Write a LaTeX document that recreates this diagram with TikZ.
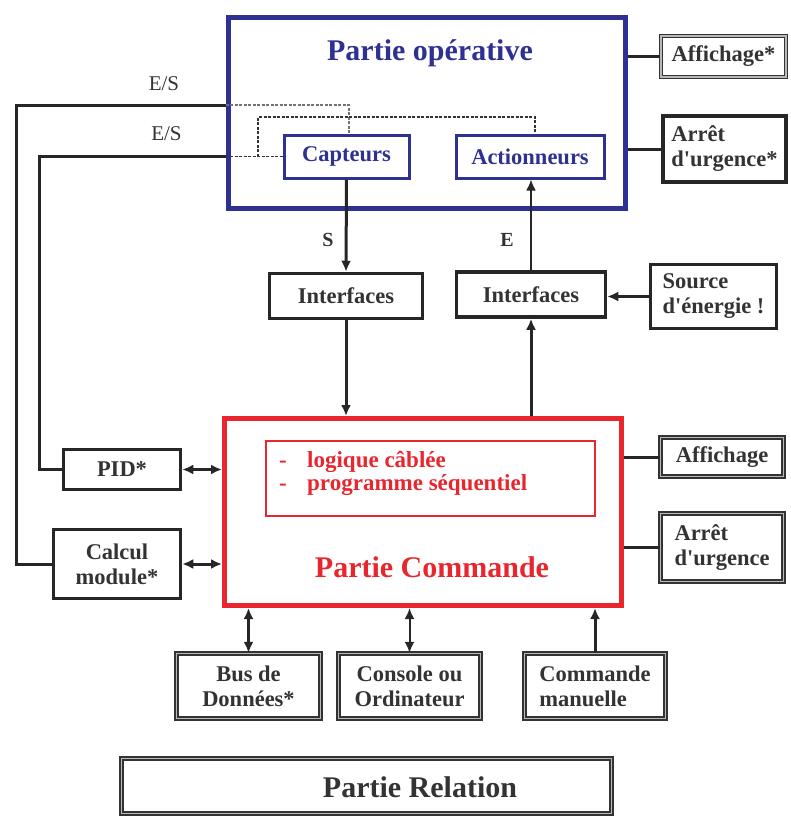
\documentclass[tikz,border=0pt]{standalone}
\usepackage{fontspec}
\setmainfont{Liberation Serif}
\usetikzlibrary{arrows.meta}
\definecolor{opblue}{HTML}{2E3192}
\definecolor{cmdred}{HTML}{E8262E}
\definecolor{ink}{HTML}{333333}
\newcommand{\apos}{\textquotesingle}
\begin{document}
\begin{tikzpicture}[x=1pt,y=-1pt,
  >={Latex[length=11pt,width=10pt]},
  lbl/.style={font=\fontsize{22.5}{25}\selectfont\bfseries, text=ink, align=center, inner sep=0pt},
  solidbox/.style={lbl, draw=black!85, line width=3.5pt, fill=white},
  framebox/.style={lbl, draw=black!80, line width=1.3pt, double=gray!55, double distance=1.8pt, fill=white},
  opframe/.style={draw=opblue, line width=5pt, inner sep=0pt},
  opbox/.style={lbl, draw=opblue, text=opblue, line width=3pt, fill=white},
  cmdframe/.style={draw=cmdred, line width=5pt, inner sep=0pt},
  cmdlist/.style={draw=cmdred, line width=2.5pt, inner sep=0pt},
  title/.style={font=\fontsize{30}{34}\selectfont\bfseries, inner sep=0pt, anchor=base},
  conn/.style={draw=black!85, line width=3pt},
  thinconn/.style={draw=black!85, line width=2pt},
  dashline/.style={draw=black!80, line width=1.2pt, dash pattern=on 3pt off 1.5pt},
  lightdash/.style={draw=black!55, line width=1.2pt, dash pattern=on 3pt off 1.5pt},
  tag/.style={font=\fontsize{21}{24}\selectfont, text=ink, inner sep=0pt},
]
\useasboundingbox (0,0) rectangle (791,817);

% ---------- Partie opérative ----------
\node[opframe, minimum width=397pt, minimum height=191pt] (op) at (426.5,112.5) {};
\node[title, text=opblue] (optitle) at (430,60) {Partie opérative};
\node[opbox, minimum width=125pt, minimum height=43pt] (capt) at (346.5,156.5) {Capteurs};
\node[opbox, minimum width=148pt, minimum height=43pt] (act) at (530,156.5) {Actionneurs};

% dashed internal links
\draw[lightdash] ([yshift=7.5pt]op.west) -| ([xshift=2.5pt]capt.north);
\coordinate (dj) at (258,156.5);
\draw[dashline] (op.west |- capt.west) -- (capt.west);
\draw[dashline] (dj) -- ++(0,-39.5) -| ([xshift=5pt]act.north);

% side boxes of the operative part
\node[framebox, minimum width=125pt, minimum height=41pt] (aff1) at (723.5,56.5) {Affichage*};
\node[solidbox, align=left, minimum width=123pt, minimum height=66pt] (arr1) at (724.5,149) {Arrêt\\d\apos urgence*};
\draw[conn] (op.east |- aff1.west) -- (aff1.west);
\draw[conn] (op.east |- arr1.west) -- (arr1.west);

% ---------- Interfaces ----------
\node[solidbox, minimum width=153pt, minimum height=45pt] (if1) at (346,296) {Interfaces};
\node[solidbox, minimum width=149pt, minimum height=45pt] (if2) at (531,294.5) {Interfaces};
\node[solidbox, align=left, minimum width=126pt, minimum height=64pt] (src) at (713.5,296.5) {Source\\d\apos énergie !};

\draw[conn, ->] (capt.south) -- (if1.north);
\node[tag, font=\fontsize{20}{24}\selectfont\bfseries] (slbl) at (328,240) {S};
\draw[thinconn, ->] (if2.north) -- (if2.north |- act.south);
\node[tag, font=\fontsize{20}{24}\selectfont\bfseries] (elbl) at (507,240) {E};
\draw[conn, ->] (src.west) -- (src.west -| if2.east);

% ---------- Partie Commande ----------
\node[cmdframe, minimum width=397pt, minimum height=187pt] (cmd) at (423,512) {};
\node[cmdlist, minimum width=329pt, minimum height=75pt] (list) at (430.5,478.5) {};
\node[lbl, text=cmdred, align=left, anchor=west, font=\fontsize{23}{23}\selectfont\bfseries] (listtxt) at (279,473)
  {\makebox[28pt][l]{-}logique câblée\\\makebox[28pt][l]{-}programme séquentiel};
\node[title, text=cmdred] (cmdtitle) at (432,577) {Partie Commande};

\draw[conn, ->] (if1.south) -- (if1.south |- cmd.north);
\draw[conn, ->] (if2.south |- cmd.north) -- (if2.south);

% left-hand modules
\node[solidbox, minimum width=117pt, minimum height=40pt] (pid) at (122,469.5) {PID*};
\node[solidbox, minimum width=127pt, minimum height=69pt] (calc) at (117,564) {Calcul\\module*};
\draw[conn, <->] (pid.east) -- (pid.east -| cmd.west);
\draw[conn, <->] (calc.east) -- (calc.east -| cmd.west);

% E/S links from the operative part
\draw[conn] ([yshift=7.5pt]op.west) -- ++(-209,0) |- (calc.west);
\draw[conn] (op.west |- capt.west) -- ++(-186,0) |- (pid.west);
\node[tag] (es1) at (164,84) {E/S};
\node[tag] (es2) at (166.5,134) {E/S};

% right-hand modules
\node[framebox, minimum width=123pt, minimum height=39pt] (aff2) at (722,457) {Affichage};
\node[framebox, align=left, minimum width=123pt, minimum height=68pt] (arr2) at (722,547.5) {Arrêt\\d\apos urgence};
\draw[conn] (cmd.east |- aff2.west) -- (aff2.west);
\draw[conn] (cmd.east |- arr2.west) -- (arr2.west);

% bottom modules
\node[framebox, minimum width=144pt, minimum height=65pt] (bus) at (248.5,686) {Bus de\\Données*};
\node[framebox, minimum width=142pt, minimum height=65pt] (cons) at (409.5,686) {Console ou\\Ordinateur};
\node[framebox, align=left, minimum width=141pt, minimum height=65pt] (man) at (595,686) {Commande\\manuelle};
\draw[conn, <->] (bus.north |- cmd.south) -- (bus.north);
\draw[thinconn, <->] (cons.north |- cmd.south) -- (cons.north);
\draw[conn, ->] (man.north) -- (man.north |- cmd.south);

% ---------- Partie Relation ----------
\node[framebox, minimum width=490pt, minimum height=55pt] (rel) at (366.5,786) {};
\node[title, text=ink] (reltitle) at (420,797) {Partie Relation};
\end{tikzpicture}
\end{document}
